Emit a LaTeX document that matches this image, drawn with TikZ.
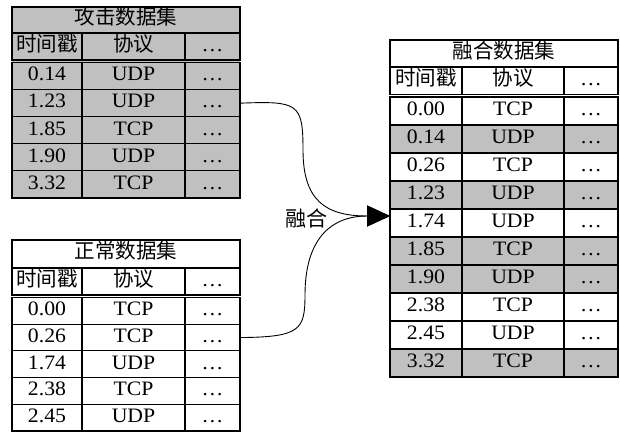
\documentclass[tikz,border=0pt]{standalone}
\usepackage{fontspec}
\setmainfont{Liberation Serif}[FakeStretch=1.06]
\newfontfamily\cjk{Noto Sans CJK SC}
\usetikzlibrary{arrows.meta}
\definecolor{cellgray}{RGB}{192,192,192}
\newcommand\tcell[7]{\node[cell,fill=#6,minimum width={#4-#2},minimum height={#5-#3}] (#1) at ({(#2+#4)/2},{(#3+#5)/2}) {#7};}
\begin{document}
\begin{tikzpicture}[x=1pt,y=-1pt,
  cell/.style={draw=black,line width=1.1pt,rectangle,inner sep=0pt,
    text height=14pt,text depth=4.5pt,font=\fontsize{20.5}{21}\selectfont},
  cn/.style={font=\cjk\fontsize{21}{21}\selectfont},
  flow/.style={line width=0.9pt,-{Triangle[length=23pt,width=21pt]}}]
\useasboundingbox (0,0) rectangle (620,432);

% ---------- attack data set (gray) ----------
\fill[cellgray] (12,7) rectangle (240,198);
\tcell{A-title}{12}{7}{240}{33}{cellgray}{\cjk 攻击数据集}
\tcell{A-h1}{12}{33}{82}{60}{cellgray}{\cjk 时间戳}
\tcell{A-h2}{82}{33}{185}{60}{cellgray}{\cjk 协议}
\tcell{A-h3}{185}{33}{240}{60}{cellgray}{…}
\foreach \t/\p [count=\i] in {0.14/UDP,1.23/UDP,1.85/TCP,1.90/UDP,3.32/TCP}{
  \pgfmathsetmacro\ya{62.5+27.1*(\i-1)}
  \pgfmathsetmacro\yb{62.5+27.1*\i}
  \tcell{A-\i-1}{12}{\ya}{82}{\yb}{cellgray}{\t}
  \tcell{A-\i-2}{82}{\ya}{185}{\yb}{cellgray}{\p}
  \tcell{A-\i-3}{185}{\ya}{240}{\yb}{cellgray}{…}
}

% ---------- normal data set (white) ----------
\tcell{B-title}{12}{240}{240}{268}{white}{\cjk 正常数据集}
\tcell{B-h1}{12}{268}{82}{295}{white}{\cjk 时间戳}
\tcell{B-h2}{82}{268}{185}{295}{white}{\cjk 协议}
\tcell{B-h3}{185}{268}{240}{295}{white}{…}
\foreach \t/\p [count=\i] in {0.00/TCP,0.26/TCP,1.74/UDP,2.38/TCP,2.45/UDP}{
  \pgfmathsetmacro\ya{297.5+26.7*(\i-1)}
  \pgfmathsetmacro\yb{297.5+26.7*\i}
  \tcell{B-\i-1}{12}{\ya}{82}{\yb}{white}{\t}
  \tcell{B-\i-2}{82}{\ya}{185}{\yb}{white}{\p}
  \tcell{B-\i-3}{185}{\ya}{240}{\yb}{white}{…}
}

% ---------- merged data set ----------
\tcell{C-title}{390}{40}{618}{67}{white}{\cjk 融合数据集}
\tcell{C-h1}{390}{67}{462}{94.5}{white}{\cjk 时间戳}
\tcell{C-h2}{462}{67}{564}{94.5}{white}{\cjk 协议}
\tcell{C-h3}{564}{67}{618}{94.5}{white}{…}
\foreach \t/\p/\c [count=\i] in {0.00/TCP/white,0.14/UDP/cellgray,0.26/TCP/white,
    1.23/UDP/cellgray,1.74/UDP/white,1.85/TCP/cellgray,1.90/UDP/cellgray,
    2.38/TCP/white,2.45/UDP/white,3.32/TCP/cellgray}{
  \pgfmathsetmacro\ya{97+28*(\i-1)}
  \pgfmathsetmacro\yb{97+28*\i}
  \tcell{C-\i-1}{390}{\ya}{462}{\yb}{\c}{\t}
  \tcell{C-\i-2}{462}{\ya}{564}{\yb}{\c}{\p}
  \tcell{C-\i-3}{564}{\ya}{618}{\yb}{\c}{…}
}

% ---------- merge connectors ----------
\coordinate (merge) at (390,216);
\draw[flow] (A-2-3.east) .. controls (298,101) and (303,103) .. (303,150)
  .. controls (303,200) and (325,216) .. (merge);
\draw[flow] (B-2-3.east) .. controls (300,337) and (305,330) .. (305,295)
  .. controls (305,240) and (330,216) .. (merge);
\node[cn] (label) at (306,218) {融合};
\end{tikzpicture}
\end{document}
